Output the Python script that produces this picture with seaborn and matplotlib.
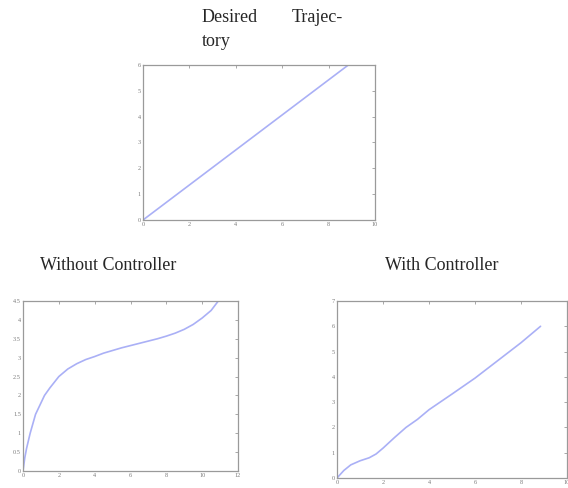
import numpy as np
import pandas as pd
import matplotlib
matplotlib.use("Agg")
import matplotlib.pyplot as plt
import seaborn as sns

# desired trajectory
desired_x = [0, 2, 4, 6, 8, 8.85]
desired_y = [0, 1.356, 2.712, 4.068, 5.424, 6.0]

# without controller
open_x = [0, 0.1, 0.2, 0.4, 0.7, 1.0, 1.2, 1.5, 2, 2.5, 3, 3.5, 4, 4.5, 5,
          5.5, 6, 6.5, 7, 7.5, 8, 8.5, 9, 9.5, 10, 10.5, 10.9]
open_y = [0, 0.35, 0.6, 1.0, 1.5, 1.8, 2.0, 2.2, 2.5, 2.7, 2.84, 2.95, 3.03,
          3.12, 3.19, 3.26, 3.32, 3.38, 3.44, 3.5, 3.57, 3.65, 3.75, 3.88,
          4.05, 4.25, 4.5]

# with controller
ctrl_x = [0, 0.3, 0.6, 1.0, 1.4, 1.7, 2.0, 2.5, 3.0, 3.5, 4.0, 5.0, 6.0,
          7.0, 8.0, 8.85]
ctrl_y = [0, 0.3, 0.52, 0.68, 0.8, 0.95, 1.18, 1.6, 2.0, 2.32, 2.7, 3.32,
          3.95, 4.65, 5.35, 6.0]

sns.set_style("white")
plt.rcParams['font.family'] = ['Liberation Serif', 'DejaVu Serif']

line_color = '#aab0f6'
edge = '#9a9a9a'

fig = plt.figure(figsize=(5.68, 4.88), dpi=100)

def style_axes(ax, xlim, ylim, xticks, yticks, xlabels, ylabels):
    ax.set_xlim(*xlim)
    ax.set_ylim(*ylim)
    ax.set_xticks(xticks)
    ax.set_yticks(yticks)
    ax.set_xticklabels(xlabels)
    ax.set_yticklabels(ylabels)
    ax.tick_params(direction='in', length=2, width=0.6, colors=edge,
                   labelsize=4.5, labelcolor='#7a7a7a', top=True, right=True,
                   pad=1.5)
    for s in ax.spines.values():
        s.set_color(edge)
        s.set_linewidth(0.9)
    ax.set_xlabel('')
    ax.set_ylabel('')

ax1 = fig.add_axes([143 / 568, 1 - 220 / 488, 232 / 568, 155 / 488])
sns.lineplot(x=desired_x, y=desired_y, ax=ax1, color=line_color, lw=1.2)
style_axes(ax1, (0, 10), (0, 6), range(0, 11, 2), range(0, 7),
           [str(v) for v in range(0, 11, 2)], [str(v) for v in range(0, 7)])

ax2 = fig.add_axes([23 / 568, 1 - 471 / 488, 215 / 568, 170 / 488])
sns.lineplot(x=open_x, y=open_y, ax=ax2, color=line_color, lw=1.2)
yt = np.arange(0, 4.51, 0.5)
style_axes(ax2, (0, 12), (0, 4.5), range(0, 13, 2), yt,
           [str(v) for v in range(0, 13, 2)],
           ['0', '0.5', '1', '1.5', '2', '2.5', '3', '3.5', '4', '4.5'])

ax3 = fig.add_axes([337 / 568, 1 - 478 / 488, 230 / 568, 177 / 488])
sns.lineplot(x=ctrl_x, y=ctrl_y, ax=ax3, color=line_color, lw=1.2)
style_axes(ax3, (0, 10), (0, 7), range(0, 11, 2), range(0, 8),
           [str(v) for v in range(0, 11, 2)], [str(v) for v in range(0, 8)])

fs = 13
fig.text(202 / 568, 1 - 17 / 488, 'Desired', fontsize=fs, ha='left', va='center')
fig.text(292 / 568, 1 - 17 / 488, 'Trajec-', fontsize=fs, ha='left', va='center')
fig.text(202 / 568, 1 - 41 / 488, 'tory', fontsize=fs, ha='left', va='center')
fig.text(108 / 568, 1 - 266 / 488, 'Without Controller', fontsize=fs,
         ha='center', va='center')
fig.text(442 / 568, 1 - 266 / 488, 'With Controller', fontsize=fs,
         ha='center', va='center')

fig.savefig('out.png', dpi=100)
